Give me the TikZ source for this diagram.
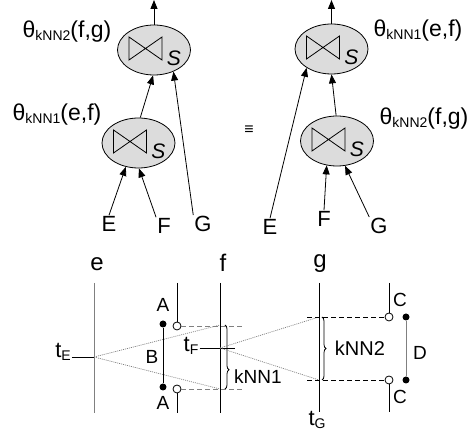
\documentclass[tikz,border=0pt]{standalone}
\usepackage{fontspec}
\setmainfont{Liberation Sans}
\usetikzlibrary{
  positioning,
  arrows.meta,
  shapes.geometric,
  decorations.pathreplacing
}
\definecolor{joinfill}{HTML}{DCDCDC}
\definecolor{faint}{HTML}{808080}
\newcommand{\lowsub}[1]{\raisebox{-2.5pt}{\fontsize{14}{14}\selectfont #1}}

\begin{document}
\begin{tikzpicture}[
  x=1pt, y=-1pt,
  joinop/.style={draw, ellipse, fill=joinfill, line width=0.8pt,
               minimum width=73pt, minimum height=50pt, inner sep=0pt},
  rel/.style={font=\fontsize{22}{24}\selectfont, inner sep=1pt},
  theta/.style={font=\fontsize{23}{26}\selectfont, inner sep=0pt},
  lab/.style={font=\fontsize{19}{22}\selectfont, inner sep=0pt},
  arr/.style={-{Triangle[length=9pt,width=7pt]}, line width=0.8pt},
  attr/.style={line width=1pt},
  dotline/.style={faint, line width=0.7pt, dash pattern=on 1pt off 1pt},
  spanline/.style={line width=0.8pt, dash pattern=on 5pt off 3pt},
  knn/.style={decorate, decoration={brace, amplitude=4pt, aspect=#1}, line width=0.8pt}
]
  \useasboundingbox (0,0) rectangle (472,435);

  % Left plan
  \node[joinop] (j1) at (138.5,143) {};
  \node[joinop] (j2) at (154,50) {};
  \node[theta] (c1) at (57,115) {θ\lowsub{kNN1}(e,f)};
  \node[theta] (c2) at (67,32) {θ\lowsub{kNN2}(f,g)};
  \node[rel] (lE) at (109,224) {E};
  \node[rel] (lF) at (164,226) {F};
  \node[rel] (lG) at (203,224) {G};
  \coordinate (out1) at (154,0);

  \draw[arr] (lE.north) -- (j1.242);
  \draw[arr] (lF.north west) -- (j1.271);
  \draw[arr] (j1.86) -- (j2.268);
  \draw[arr] (lG.north west) -- (j2.312);
  \draw[arr] (j2) -- (out1);

  \node[font=\fontsize{16}{16}\selectfont] (eq) at (249,130) {≡};

  % Right plan
  \node[joinop] (j3) at (331.5,49) {};
  \node[joinop] (j4) at (337,141) {};
  \node[theta] (c3) at (418,31) {θ\lowsub{kNN1}(e,f)};
  \node[theta] (c4) at (424,119) {θ\lowsub{kNN2}(f,g)};
  \node[rel] (rE) at (270,227) {E};
  \node[rel] (rF) at (324,219) {F};
  \node[rel] (rG) at (379,226) {G};
  \coordinate (out2) at (331.5,0);

  \draw[arr] (rE.north) -- (j3.217);
  \draw[arr] (j4.92) -- (j3.270);
  \draw[arr] (rF.north) -- (j4.247);
  \draw[arr] (rG.north west) -- (j4.288);
  \draw[arr] (j3) -- (out2);

  % join symbols
  \foreach \j in {j1,j2,j3,j4}{
    \draw[line width=0.8pt] ([shift={(-25,-13)}]\j.center) -- ([shift={(8,10)}]\j.center)
      -- ([shift={(8,-13)}]\j.center) -- ([shift={(-25,10)}]\j.center) -- cycle;
    \node[rel, font=\fontsize{21}{24}\selectfont\itshape] (\j-s) at ([shift={(20,8)}]\j.center) {S};
  }

  % Time lines
  \node[rel, font=\fontsize{24}{24}\selectfont] (le) at (97,264) {e};
  \node[rel, font=\fontsize{24}{24}\selectfont] (lf) at (223,263) {f};
  \node[rel, font=\fontsize{24}{24}\selectfont] (lg) at (320,264) {g};
  \coordinate (eT) at (94,283);  \coordinate (eB) at (94,413);
  \coordinate (fT) at (220,283); \coordinate (fB) at (220,413);
  \coordinate (gT) at (319,283); \coordinate (gB) at (319,412);
  \draw[attr, faint] (eT) -- (eB);
  \draw[attr] (fT) -- (fB);
  \draw[attr] (gT) -- (gB);

  \coordinate (tE) at (94,357);
  \coordinate (tF) at (220,348);
  \node[rel] (ltE) at (63,352) {t\lowsub{E}};
  \node[rel] (ltF) at (191,346) {t\lowsub{F}};
  \node[rel] (ltG) at (317,420) {t\lowsub{G}};
  \draw[line width=0.8pt] (ltE.east |- tE) -- (tE);
  \draw[line width=0.8pt] (ltF.east |- tF) -- ([xshift=15pt]tF);

  % kNN1 window on f
  \coordinate (f1) at (220,325); \coordinate (f2) at (220,389);
  \draw[dotline] (tE) -- (f1);
  \draw[dotline] (tE) -- (f2);
  \node[lab] (knn1) at (258,377) {kNN1};
  \draw[knn=0.7] (225,325) -- (225,389);

  % kNN2 window on g
  \coordinate (g1) at (319,317); \coordinate (g2) at (319,380);
  \draw[dotline] (tF) -- (g1);
  \draw[dotline] (tF) -- (g2);
  \node[lab, font=\fontsize{20}{22}\selectfont] (knn2) at (360,348) {kNN2};
  \draw[knn=0.5] (322,317) -- (322,380);

  % tuples A and B
  \node[draw, circle, fill=white, line width=0.8pt, minimum size=8pt, inner sep=0pt] (a1) at (177,326) {};
  \node[draw, circle, fill=white, line width=0.8pt, minimum size=8pt, inner sep=0pt] (a2) at (177,389) {};
  \coordinate (a1T) at (177,283); \coordinate (a2B) at (177,413);
  \draw[line width=0.8pt] (a1T) -- (a1);
  \draw[line width=0.8pt] (a2) -- (a2B);
  \draw[spanline, faint] (a1) -- (243,326);
  \draw[spanline, faint] (a2) -- (243,389);
  \node[circle, fill=black, minimum size=7pt, inner sep=0pt] (b1) at (163,324) {};
  \node[circle, fill=black, minimum size=7pt, inner sep=0pt] (b2) at (163,387) {};
  \draw[line width=0.8pt] (b1) -- (b2);
  \node[lab] (lA1) at (163,305) {A};
  \node[lab] (lA2) at (163,403) {A};
  \node[lab] (lB) at (152,357) {B};

  % tuples C and D
  \node[draw, circle, fill=white, line width=0.8pt, minimum size=8pt, inner sep=0pt] (c1o) at (389,317) {};
  \node[draw, circle, fill=white, line width=0.8pt, minimum size=8pt, inner sep=0pt] (c2o) at (389,380) {};
  \coordinate (c1T) at (389,283); \coordinate (c2B) at (389,412);
  \draw[line width=0.8pt] (c1T) -- (c1o);
  \draw[line width=0.8pt] (c2o) -- (c2B);
  \draw[spanline] (307,317) -- (c1o);
  \draw[spanline] (307,380) -- (c2o);
  \node[circle, fill=black, minimum size=7pt, inner sep=0pt] (d1) at (406,317) {};
  \node[circle, fill=black, minimum size=7pt, inner sep=0pt] (d2) at (406,380) {};
  \draw[line width=1pt, faint] (d1) -- (d2);
  \node[lab] (lC1) at (400,300) {C};
  \node[lab] (lC2) at (400,397) {C};
  \node[lab] (lD) at (420,353) {D};
\end{tikzpicture}
\end{document}
